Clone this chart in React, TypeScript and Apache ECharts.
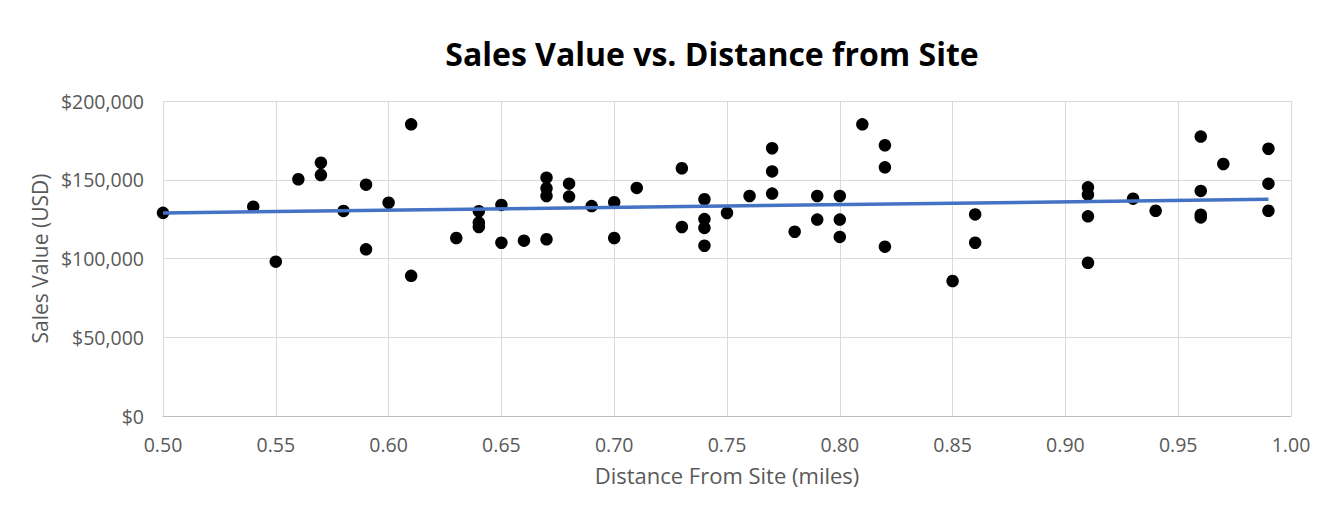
import React, { useEffect, useRef } from "react";
import * as echarts from "echarts";

const distances: number[] = [
  0.50, 0.54, 0.55, 0.56, 0.57, 0.57, 0.58, 0.59, 0.59, 0.60,
  0.61, 0.61, 0.63, 0.64, 0.64, 0.64, 0.65, 0.65, 0.66,
  0.67, 0.67, 0.67, 0.67, 0.68, 0.68, 0.69, 0.70, 0.70, 0.71,
  0.73, 0.73, 0.74, 0.74, 0.74, 0.74, 0.75, 0.76,
  0.77, 0.77, 0.77, 0.78, 0.79, 0.79, 0.80, 0.80, 0.80, 0.81,
  0.82, 0.82, 0.82, 0.85, 0.86, 0.86,
  0.91, 0.91, 0.91, 0.91, 0.93, 0.94,
  0.96, 0.96, 0.96, 0.96, 0.97, 0.99, 0.99, 0.99,
];

const salesValues: number[] = [
  129000, 132900, 98000, 150300, 160800, 153000, 130200, 146900, 105800, 135400,
  185200, 89000, 113000, 130000, 122700, 120000, 134000, 110000, 111300,
  151300, 144600, 139700, 112200, 147500, 139300, 133300, 135700, 113000, 144800,
  157300, 120000, 137600, 125000, 119400, 108100, 128900, 139700,
  170000, 155300, 141200, 117000, 139700, 124700, 139700, 124700, 113700, 185200,
  171900, 157900, 107500, 85700, 128000, 110000,
  145200, 140500, 126800, 97300, 138000, 130300,
  177400, 142900, 127800, 126100, 160000, 169700, 147500, 130300,
];

// Linear trendline endpoints
const trendDistances: number[] = [0.5, 0.99];
const trendValues: number[] = [128900, 137600];

const xTicks = { min: 0.5, max: 1.0, interval: 0.05 };
const yTicks = { min: 0, max: 200000, interval: 50000 };

const titleText = "Sales Value vs. Distance from Site";
const xAxisName = "Distance From Site (miles)";
const yAxisName = "Sales Value (USD)";

export default function App() {
  const ref = useRef<HTMLDivElement>(null);

  useEffect(() => {
    if (!ref.current) return;
    const chart = echarts.init(ref.current, undefined, { renderer: "svg" });
    const font = "'Open Sans', 'Noto Sans', sans-serif";
    const gray = "#595959";

    chart.setOption({
      animation: false,
      backgroundColor: "#ffffff",
      textStyle: { fontFamily: font },
      graphic: [
        {
          type: "rect",
          shape: { x: 7.5, y: 7.5, width: 1340, height: 530 },
          style: { fill: "none", stroke: "#d0d0d0", lineWidth: 1 },
          silent: true,
        },
        {
          type: "text",
          x: 712,
          y: 53,
          style: {
            text: titleText,
            fontFamily: font,
            fontSize: 32,
            fontWeight: "bold",
            fill: "#000000",
            align: "center",
            verticalAlign: "middle",
          },
          silent: true,
        },
      ],
      grid: { left: 163, right: 47, top: 101, bottom: 105, containLabel: false },
      xAxis: {
        type: "value",
        min: xTicks.min,
        max: xTicks.max,
        interval: xTicks.interval,
        name: xAxisName,
        nameLocation: "middle",
        nameGap: 47.5,
        nameTextStyle: { fontFamily: font, fontSize: 22, color: gray },
        axisLine: { show: true, lineStyle: { color: "#bfbfbf", width: 1 } },
        axisTick: { show: false },
        axisLabel: {
          fontFamily: font,
          fontSize: 19.5,
          color: gray,
          margin: 18,
          formatter: (v: number) => v.toFixed(2),
        },
        splitLine: { show: true, lineStyle: { color: "#d9d9d9", width: 1 } },
      },
      yAxis: {
        type: "value",
        min: yTicks.min,
        max: yTicks.max,
        interval: yTicks.interval,
        name: yAxisName,
        nameLocation: "middle",
        nameGap: 109.5,
        nameRotate: 90,
        nameTextStyle: { fontFamily: font, fontSize: 21, color: gray },
        axisLine: { show: false },
        axisTick: { show: false },
        axisLabel: {
          fontFamily: font,
          fontSize: 19.5,
          color: gray,
          margin: 19,
          formatter: (v: number) => "$" + v.toLocaleString("en-US"),
        },
        splitLine: { show: true, lineStyle: { color: "#d9d9d9", width: 1 } },
      },
      series: [
        {
          type: "scatter",
          data: distances.map((d, i) => [d, salesValues[i]]),
          symbol: "circle",
          symbolSize: 12.5,
          itemStyle: { color: "#000000", opacity: 1 },
          z: 2,
        },
        {
          type: "line",
          data: trendDistances.map((d, i) => [d, trendValues[i]]),
          symbol: "none",
          lineStyle: { color: "#4472c4", width: 3.5 },
          z: 3,
        },
      ],
    });
    return () => chart.dispose();
  }, []);

  return <div ref={ref} style={{ width: 1338, height: 521, margin: -8 }} />;
}
